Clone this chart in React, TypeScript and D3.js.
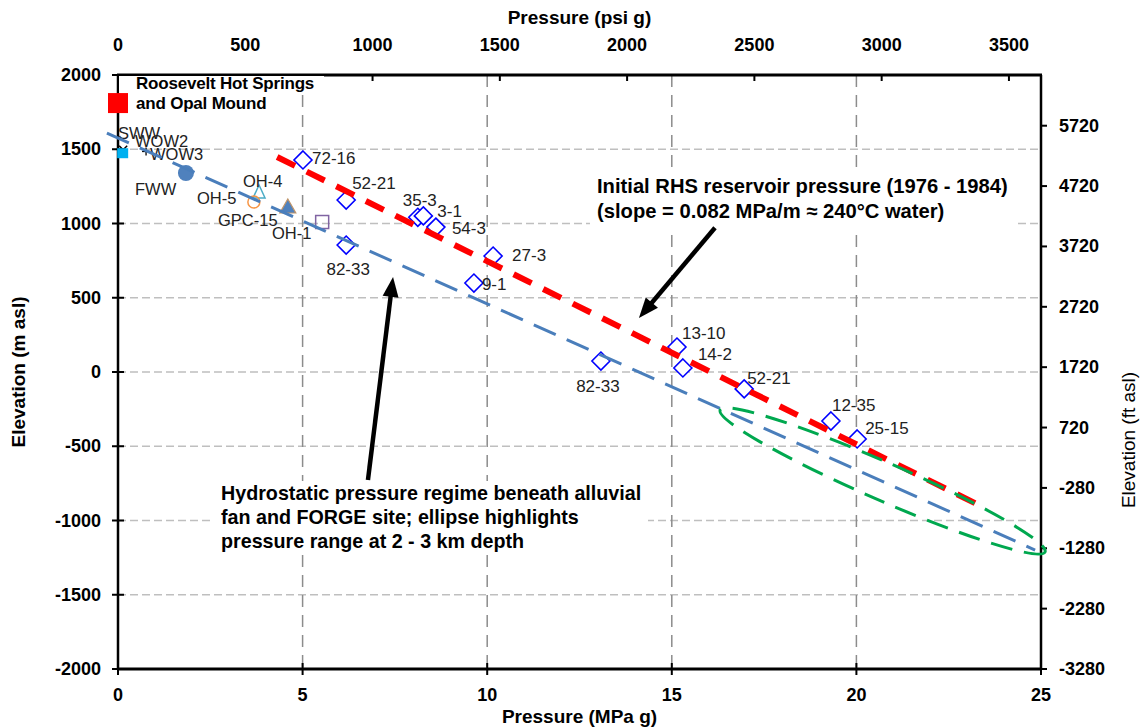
import React from "react";
import * as d3 from "d3";

// ---------- data ----------
const wellNames = ["72-16", "52-21", "82-33", "35-3", "3-1", "54-3", "27-3", "9-1", "82-33", "13-10", "14-2", "52-21", "12-35", "25-15"];
const wellPressureMPa = [5.01, 6.18, 6.18, 8.12, 8.27, 8.61, 10.16, 9.64, 13.08, 15.14, 15.3, 16.96, 19.31, 20.02];
const wellElevationM = [1428, 1158, 855, 1042, 1051, 976, 781, 599, 74, 168, 27, -114, -330, -451];

// shallow wells / springs
const shallowNames = ["SWW", "WOW2", "WOW3", "FWW", "OH-4", "OH-5", "GPC-15", "OH-1"];
const shallowPressureMPa = [0.14, 0.14, 0.76, 1.84, 3.82, 3.68, 4.6, 5.53];
const shallowElevationM = [1497, 1480, 1485, 1340, 1205, 1145, 1111, 1010];
const shallowMarkers = ["x", "cyanSquare", "plus", "circleFilled", "triangleOpen", "circleOpen", "triangleFilled", "squareOpen"];

const springName = ["Roosevelt Hot Springs", "and Opal Mound"];
const springPressureMPa = [0];
const springElevationM = [1811];

// drawn lines (MPa, m)
const hydroLineMPa = [-0.3, 24.84];
const hydroLineM = [1609, -1199];
const rhsLineMPa = [4.31, 23.48];
const rhsLineM = [1448, -916];
const ellipseTipsMPa = [16.31, 25.11];
const ellipseTipsM = [-256, -1212];
const arrowRhsMPa = [16.17, 14.11];
const arrowRhsM = [971, 364];
const arrowHydroMPa = [6.77, 7.45];
const arrowHydroM = [-727, 640];

// axes
const mpaTicks = [0, 5, 10, 15, 20, 25];
const elevTicks = [-2000, -1500, -1000, -500, 0, 500, 1000, 1500, 2000];
const psiTicks = [0, 500, 1000, 1500, 2000, 2500, 3000, 3500];
const ftTicks = [-3280, -2280, -1280, -280, 720, 1720, 2720, 3720, 4720, 5720];

const rhsText = ["Initial RHS reservoir pressure (1976 - 1984)", "(slope = 0.082 MPa/m \u2248 240\u00b0C water)"];
const hydroText = ["Hydrostatic pressure regime beneath alluvial", "fan and FORGE site; ellipse highlights", "pressure range at 2 - 3 km depth"];

// ---------- layout ----------
const W = 1145, H = 727;
const L = 118, R = 1041, T = 75, B = 669;
const FONT = "'Liberation Sans', Arial, sans-serif";

// label offsets (px) relative to points
const wellLabelOffsets: [number, number, string][] = [
  [9, -1, "start"], [6, -17, "start"], [2, 24, "middle"], [-15, -17, "start"], [14, -4, "start"],
  [16, 1, "start"], [19, -1, "start"], [8, 1, "start"], [-3, 25, "middle"], [5, -14, "start"],
  [15, -13, "start"], [3, -10, "start"], [1, -16, "start"], [8, -10, "start"],
];
const shallowLabelPos: [number, number][] = [
  [118, 133], [135, 141], [150, 154], [135, 189], [243, 181], [197, 198], [218, 220], [272, 233],
];

export default function App() {
  const x = d3.scaleLinear().domain([0, 25]).range([L, R]);
  const y = d3.scaleLinear().domain([-2000, 2000]).range([B, T]);
  const xPsi = d3.scaleLinear().domain([0, 25 * 145.0377]).range([L, R]);
  const yFt = d3.scaleLinear().domain([-3280, 6560]).range([B, T]);

  const line = d3.line<[number, number]>().x((d) => x(d[0])).y((d) => y(d[1]));

  const hydroPath = line([[hydroLineMPa[0], hydroLineM[0]], [hydroLineMPa[1], hydroLineM[1]]]) || "";
  const rhsPath = line([[rhsLineMPa[0], rhsLineM[0]], [rhsLineMPa[1], rhsLineM[1]]]) || "";

  // ellipse
  const e1 = [x(ellipseTipsMPa[0]), y(ellipseTipsM[0])];
  const e2 = [x(ellipseTipsMPa[1]), y(ellipseTipsM[1])];
  const ecx = (e1[0] + e2[0]) / 2, ecy = (e1[1] + e2[1]) / 2;
  const erx = Math.hypot(e2[0] - e1[0], e2[1] - e1[1]) / 2;
  const eang = (Math.atan2(e2[1] - e1[1], e2[0] - e1[0]) * 180) / Math.PI;

  const arrow = (mx: number[], my: number[], key: string) => {
    const x0 = x(mx[0]), y0 = y(my[0]), x1 = x(mx[1]), y1 = y(my[1]);
    const ang = Math.atan2(y1 - y0, x1 - x0);
    const hl = 20, hw = 8;
    const bx = x1 - hl * Math.cos(ang), by = y1 - hl * Math.sin(ang);
    const px = -Math.sin(ang), py = Math.cos(ang);
    const pts = `${x1},${y1} ${bx + hw * px},${by + hw * py} ${bx - hw * px},${by - hw * py}`;
    return (
      <g key={key}>
        <line x1={x0} y1={y0} x2={bx + 2 * Math.cos(ang)} y2={by + 2 * Math.sin(ang)} stroke="#000" strokeWidth={4.5} />
        <polygon points={pts} fill="#000" />
      </g>
    );
  };

  const marker = (kind: string, cx: number, cy: number, key: string) => {
    switch (kind) {
      case "x":
        return (
          <g key={key} stroke="#000" strokeWidth={1.5}>
            <line x1={cx - 4} y1={cy - 4} x2={cx + 4} y2={cy + 4} />
            <line x1={cx - 4} y1={cy + 4} x2={cx + 4} y2={cy - 4} />
          </g>
        );
      case "cyanSquare":
        return <rect key={key} x={cx - 6} y={cy - 4} width={11} height={10} fill="#00B0F0" />;
      case "plus":
        return (
          <g key={key} stroke="#000" strokeWidth={1.3}>
            <line x1={cx - 4} y1={cy} x2={cx + 4} y2={cy} />
            <line x1={cx} y1={cy - 4} x2={cx} y2={cy + 4} />
          </g>
        );
      case "circleFilled":
        return <circle key={key} cx={cx} cy={cy} r={8} fill="#4F81BD" />;
      case "triangleOpen":
        return <polygon key={key} points={`${cx},${cy - 8} ${cx + 6},${cy + 5} ${cx - 6},${cy + 5}`} fill="none" stroke="#4BACC6" strokeWidth={1.5} />;
      case "circleOpen":
        return <circle key={key} cx={cx} cy={cy} r={6} fill="none" stroke="#F79646" strokeWidth={1.5} />;
      case "triangleFilled":
        return <polygon key={key} points={`${cx},${cy - 8} ${cx + 8},${cy + 6} ${cx - 8},${cy + 6}`} fill="#4F81BD" stroke="#C0956A" strokeWidth={1.2} />;
      case "squareOpen":
        return <rect key={key} x={cx - 6.5} y={cy - 6.5} width={13} height={13} fill="none" stroke="#8064A2" strokeWidth={1.5} />;
      default:
        return null;
    }
  };

  const gridH = elevTicks.filter((v) => v > -2000 && v < 2000);
  const gridV = mpaTicks.filter((v) => v > 0 && v < 25);

  return (
    <svg width={W} height={H} style={{ position: "absolute", left: 0, top: 0, background: "#fff" }} fontFamily={FONT}>
      <rect x={0} y={0} width={W} height={H} fill="#fff" />
      {/* gridlines */}
      {gridH.map((v) => (
        <line key={"gh" + v} x1={L} x2={R} y1={y(v)} y2={y(v)} stroke="#BFBFBF" strokeWidth={1.5} strokeDasharray="8 4" />
      ))}
      {gridV.map((v) => (
        <line key={"gv" + v} x1={x(v)} x2={x(v)} y1={T} y2={B} stroke="#8C8C8C" strokeWidth={1.5} strokeDasharray="12 8" />
      ))}

      {/* axes */}
      <line x1={L - 1} x2={R + 1} y1={T} y2={T} stroke="#000" strokeWidth={3} />
      <line x1={L - 1} x2={R + 1} y1={B} y2={B} stroke="#000" strokeWidth={3} />
      <line x1={L} x2={L} y1={T} y2={B} stroke="#000" strokeWidth={2.5} />
      <line x1={R} x2={R} y1={T} y2={B} stroke="#000" strokeWidth={2.5} />
      {elevTicks.map((v) => (
        <g key={"yt" + v}>
          <line x1={L - 6} x2={L + 6} y1={y(v)} y2={y(v)} stroke="#000" strokeWidth={2} />
          <text x={L - 17} y={y(v)} textAnchor="end" dominantBaseline="central" fontSize={18} fontWeight="bold">{v}</text>
        </g>
      ))}
      {mpaTicks.map((v) => (
        <g key={"xt" + v}>
          <line x1={x(v)} x2={x(v)} y1={B - 6} y2={B + 6} stroke="#000" strokeWidth={2} />
          <text x={x(v)} y={695} textAnchor="middle" dominantBaseline="central" fontSize={18} fontWeight="bold">{v}</text>
        </g>
      ))}
      {psiTicks.map((v) => (
        <g key={"pt" + v}>
          <line x1={xPsi(v)} x2={xPsi(v)} y1={T} y2={T + 6} stroke="#000" strokeWidth={2} />
          <text x={xPsi(v)} y={45} textAnchor="middle" dominantBaseline="central" fontSize={18} fontWeight="bold">{v}</text>
        </g>
      ))}
      {ftTicks.map((v) => (
        <g key={"ft" + v}>
          <line x1={R} x2={R + 6} y1={yFt(v)} y2={yFt(v)} stroke="#000" strokeWidth={2} />
          <text x={R + 18} y={yFt(v)} textAnchor="start" dominantBaseline="central" fontSize={18} fontWeight="bold">{v}</text>
        </g>
      ))}

      {/* axis titles */}
      <text x={(L + R) / 2} y={17} textAnchor="middle" dominantBaseline="central" fontSize={19} fontWeight="bold">Pressure (psi g)</text>
      <text x={(L + R) / 2} y={716} textAnchor="middle" dominantBaseline="central" fontSize={19} fontWeight="bold">Pressure (MPa g)</text>
      <text transform={`translate(18,${(T + B) / 2}) rotate(-90)`} textAnchor="middle" dominantBaseline="central" fontSize={19} fontWeight="bold">Elevation (m asl)</text>
      <text transform={`translate(1128,440) rotate(-90)`} textAnchor="middle" dominantBaseline="central" fontSize={19}>Elevation (ft asl)</text>

      {/* spring point and its label */}
      <rect x={L + 1} y={T + 1} width={205} height={17} fill="#fff" />
      {springPressureMPa.map((p, i) => (
        <rect key={"sp" + i} x={x(p) - 10} y={y(springElevationM[i]) - 10} width={20} height={20} fill="#FF0000" />
      ))}
      <text x={136} y={83} dominantBaseline="central" fontSize={17} fontWeight="bold" letterSpacing={-0.2}>{springName[0]}</text>
      <text x={136} y={103} dominantBaseline="central" fontSize={17} fontWeight="bold" letterSpacing={-0.2}>{springName[1]}</text>

      {/* shallow wells */}
      {shallowNames.map((n, i) => marker(shallowMarkers[i], x(shallowPressureMPa[i]), y(shallowElevationM[i]), "sm" + i))}
      {shallowNames.map((n, i) => (
        <text key={"sl" + i} x={shallowLabelPos[i][0]} y={shallowLabelPos[i][1]} dominantBaseline="central" fontSize={16.5} fill="#222">{n}</text>
      ))}

      {/* deep wells */}
      {wellNames.map((n, i) => {
        const cx = x(wellPressureMPa[i]), cy = y(wellElevationM[i]);
        return <polygon key={"wd" + i} points={`${cx},${cy - 9} ${cx + 9},${cy} ${cx},${cy + 9} ${cx - 9},${cy}`} fill="#fff" stroke="#0000FF" strokeWidth={1.6} />;
      })}
      {wellNames.map((n, i) => {
        const cx = x(wellPressureMPa[i]), cy = y(wellElevationM[i]);
        const [dx, dy, anchor] = wellLabelOffsets[i];
        return (
          <text key={"wl" + i} x={cx + dx} y={cy + dy} textAnchor={anchor} dominantBaseline="central" fontSize={17} fill="#222">{n}</text>
        );
      })}

      {/* drawn lines */}
      <path d={hydroPath} stroke="#4A7EBB" strokeWidth={3} strokeDasharray="24 12" fill="none" />
      <path d={rhsPath} stroke="#FF0000" strokeWidth={6} strokeDasharray="20 13" fill="none" />
      <ellipse cx={ecx} cy={ecy} rx={erx} ry={19} transform={`rotate(${eang} ${ecx} ${ecy})`} fill="none" stroke="#00A84F" strokeWidth={3} strokeDasharray="22 12" />

      {/* text boxes */}
      <rect x={590} y={168} width={425} height={60} fill="#fff" />
      {rhsText.map((t, i) => (
        <text key={"rt" + i} x={597} y={186 + i * 25} dominantBaseline="central" fontSize={20.2} fontWeight="bold">{t}</text>
      ))}
      <rect x={212} y={481} width={436} height={74} fill="#fff" />
      {hydroText.map((t, i) => (
        <text key={"ht" + i} x={221} y={493 + i * 24} dominantBaseline="central" fontSize={19.7} fontWeight="bold">{t}</text>
      ))}

      {/* arrows */}
      {arrow(arrowRhsMPa, arrowRhsM, "a1")}
      {arrow(arrowHydroMPa, arrowHydroM, "a2")}
    </svg>
  );
}
